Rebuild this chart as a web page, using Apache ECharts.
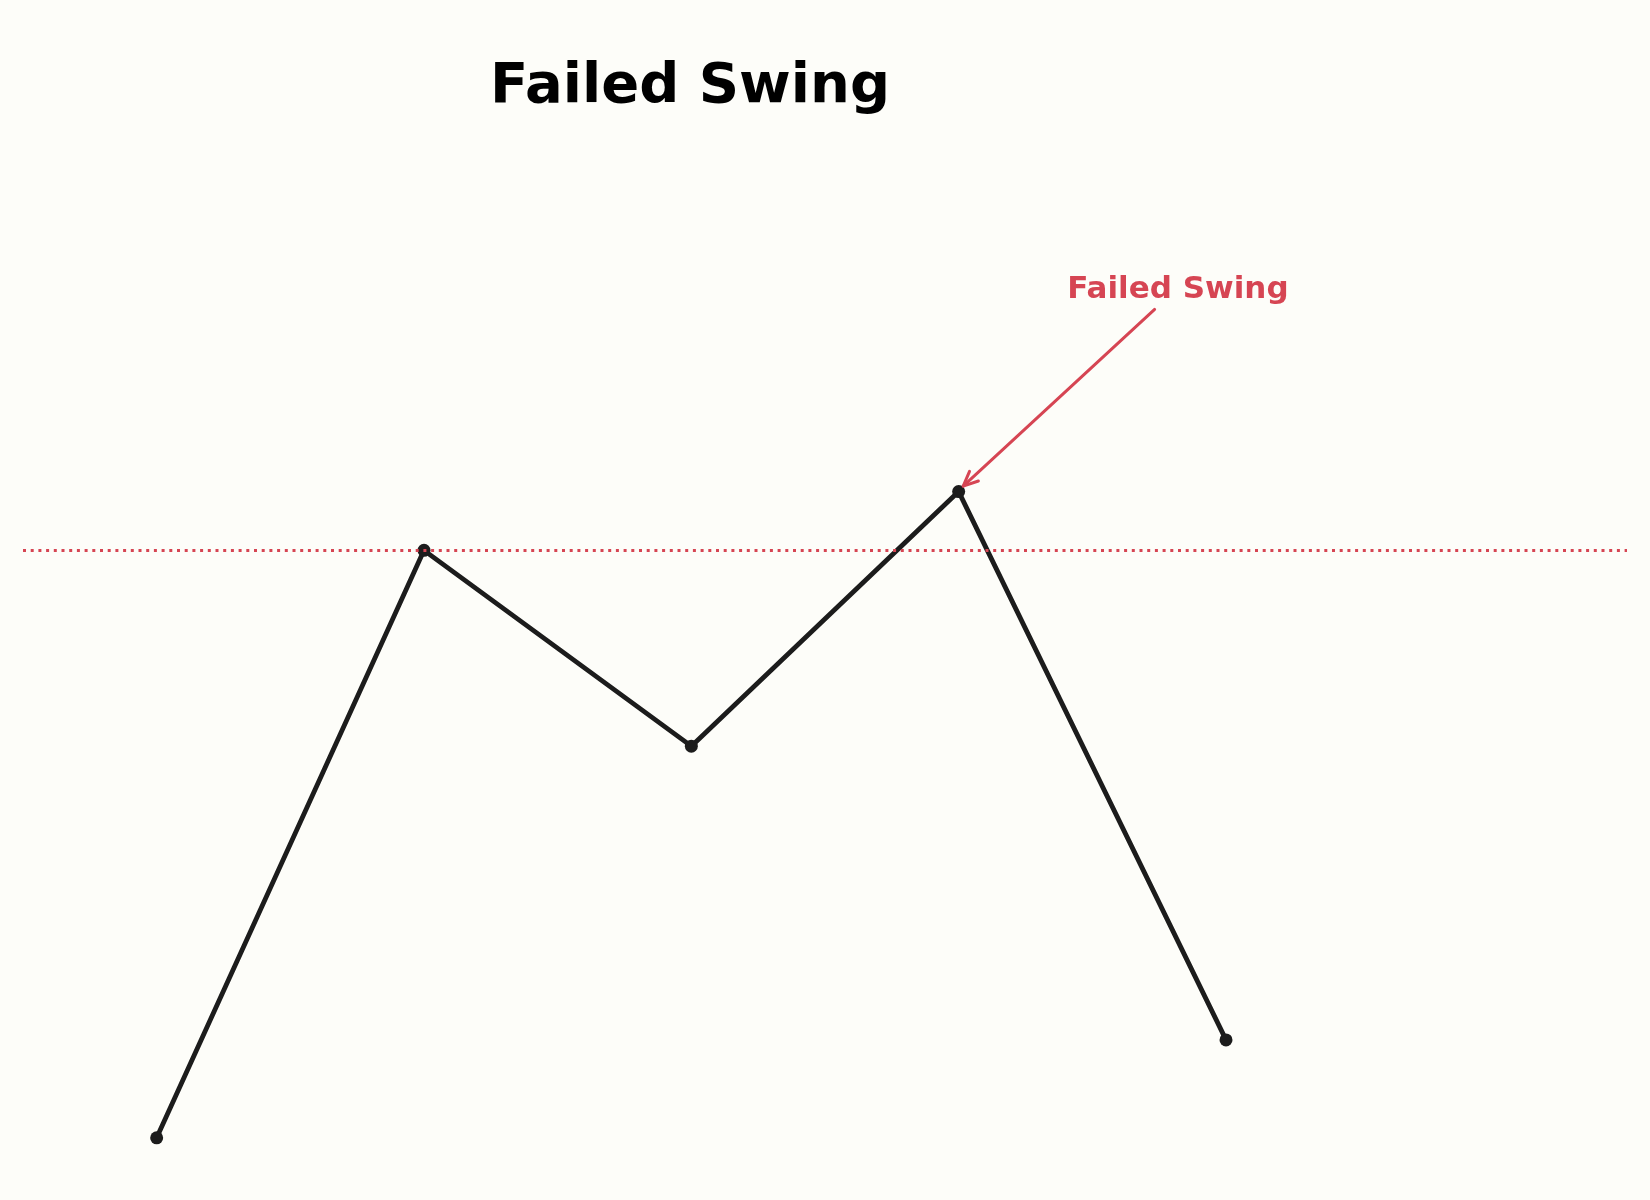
<!DOCTYPE html>
<html>
<head>
<meta charset="utf-8">
<title>Failed Swing</title>
<script src="https://cdn.jsdelivr.net/npm/echarts@6/dist/echarts.min.js"></script>
<style>
html, body { margin: 0; padding: 0; background: #fdfdf9; }
#chart { width: 1650px; height: 1200px; }
</style>
</head>
<body>
<div id="chart"></div>
<script>
// swing points
var swingX = [0, 1, 2, 3, 4];
var swingY = [1, 4, 3, 4.3, 1.5];
// previous swing high level
var levelY = 4;
// annotation
var noteText = 'Failed Swing';
var notePos = [3.82, 5.33];
var arrowFrom = [3.733, 5.23];
var arrowTo = [3.017, 4.328];

var red = '#d64553';
var ink = '#1c1c1c';

var myChart = echarts.init(document.getElementById('chart'));

var points = swingX.map(function (x, i) { return [x, swingY[i]]; });

option = {
	backgroundColor: '#fdfdf9',
	animation: false,
	title: {
		text: 'Failed Swing',
		left: 685,
		top: 54,
		textAlign: 'center',
		textStyle: {
			fontFamily: 'DejaVu Sans',
			fontWeight: 'bold',
			fontSize: 56,
			color: '#000'
		}
	},
	grid: {
		left: 23,
		right: 23,
		top: 237,
		bottom: 23
	},
	xAxis: {
		type: 'value',
		min: -0.5,
		max: 5.5,
		show: false
	},
	yAxis: {
		type: 'value',
		min: 0.8,
		max: 5.6,
		show: false
	},
	series: [{
		type: 'line',
		data: points,
		symbol: 'circle',
		symbolSize: 13,
		lineStyle: { color: ink, width: 4.8 },
		itemStyle: { color: ink },
		z: 3,
		markLine: {
			silent: true,
			symbol: ['none', 'none'],
			label: { show: false },
			lineStyle: { color: red, width: 3, type: [3, 4.7], opacity: 1 },
			data: [{ yAxis: levelY }]
		}
	}, {
		type: 'custom',
		silent: true,
		z: 4,
		data: [[arrowFrom[0], arrowFrom[1], arrowTo[0], arrowTo[1]]],
		renderItem: function (params, api) {
			var a = api.coord([api.value(0), api.value(1)]);
			var b = api.coord([api.value(2), api.value(3)]);
			var t = api.coord(notePos);
			var ang = Math.atan2(a[1] - b[1], a[0] - b[0]);
			var hl = 16, spread = 0.42;
			var h1 = [b[0] + hl * Math.cos(ang + spread), b[1] + hl * Math.sin(ang + spread)];
			var h2 = [b[0] + hl * Math.cos(ang - spread), b[1] + hl * Math.sin(ang - spread)];
			var style = { stroke: red, lineWidth: 3, fill: null, lineCap: 'round', lineJoin: 'round' };
			return {
				type: 'group',
				children: [{
					type: 'line',
					shape: { x1: a[0], y1: a[1], x2: b[0], y2: b[1] },
					style: style
				}, {
					type: 'polyline',
					shape: { points: [h1, b, h2] },
					style: style
				}, {
					type: 'text',
					style: {
						x: t[0],
						y: t[1],
						text: noteText,
						fill: red,
						font: 'bold 31px "DejaVu Sans"',
						textAlign: 'center',
						textVerticalAlign: 'middle'
					}
				}]
			};
		}
	}]
};
myChart.setOption(option);
window.onresize = myChart.resize;
</script>
</body>
</html>
